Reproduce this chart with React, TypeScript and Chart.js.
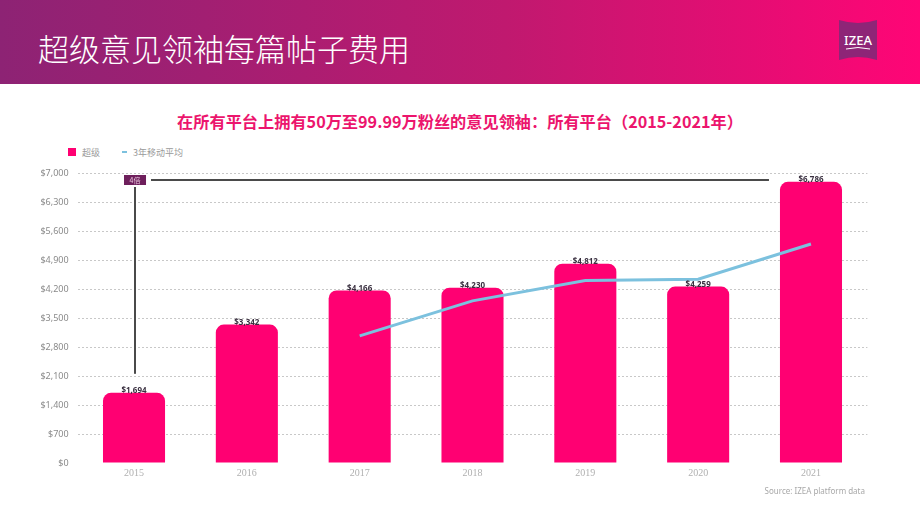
import React, { useEffect, useRef } from "react";
import { Chart, registerables } from "chart.js";

Chart.register(...registerables);

const categories = ["2015", "2016", "2017", "2018", "2019", "2020", "2021"];
const costValues = [1694, 3342, 4166, 4230, 4812, 4259, 6786];
const movingAvgValues = [null, null, 3067, 3913, 4403, 4434, 5286];
const yTickMax = 7000;
const yTickStep = 700;
const seriesNames = ["超级", "3年移动平均"];
const headerTitle = "超级意见领袖每篇帖子费用";
const chartTitle = "在所有平台上拥有50万至99.99万粉丝的意见领袖：所有平台（2015-2021年）";
const annotationLabel = "4倍";
const annotationLevel = 6830;
const sourceText = "Source: IZEA platform data";

const W = 920;
const H = 518;

const fmt = (v: number) => "$" + Number(v).toLocaleString("en-US");

const barLabelPlugin = {
  id: "barLabels",
  afterDatasetsDraw(chart: any) {
    const ctx = chart.ctx;
    const meta = chart.getDatasetMeta(0);
    ctx.save();
    ctx.font = "bold 8px 'Noto Sans', sans-serif";
    ctx.fillStyle = "#3a3040";
    ctx.textAlign = "center";
    ctx.textBaseline = "bottom";
    meta.data.forEach((bar: any, i: number) => {
      ctx.fillText(fmt(costValues[i]), bar.x, bar.y + 2);
    });
    ctx.restore();
  },
};

const annotationPlugin = {
  id: "fourX",
  afterDatasetsDraw(chart: any) {
    const ctx = chart.ctx;
    const xs = chart.scales.x;
    const ys = chart.scales.y;
    const meta = chart.getDatasetMeta(0);
    const first = meta.data[0];
    const last = meta.data[meta.data.length - 1];
    const x0 = xs.getPixelForValue(0) + 1;
    const yLine = Math.round(ys.getPixelForValue(annotationLevel));
    const xEnd = last.x - last.width / 2 - 11;
    ctx.save();
    ctx.strokeStyle = "#4a4a4a";
    ctx.lineWidth = 2;
    ctx.beginPath();
    ctx.moveTo(x0 + 16, yLine);
    ctx.lineTo(xEnd, yLine);
    ctx.stroke();
    ctx.beginPath();
    ctx.moveTo(x0, yLine + 7);
    ctx.lineTo(x0, first.y - 19);
    ctx.stroke();
    ctx.fillStyle = "#6e1f5c";
    ctx.fillRect(x0 - 11, yLine - 5, 22, 10);
    ctx.fillStyle = "#e8c6dc";
    ctx.font = "7px 'Noto Sans CJK SC', sans-serif";
    ctx.textAlign = "center";
    ctx.textBaseline = "middle";
    ctx.fillText(annotationLabel, x0, yLine);
    ctx.restore();
  },
};

export default function App() {
  const ref = useRef<HTMLCanvasElement | null>(null);

  useEffect(() => {
    document.body.style.margin = "0";
    const canvas = ref.current;
    if (!canvas) return;
    const chart = new Chart(canvas, {
      type: "bar",
      data: {
        labels: categories,
        datasets: [
          {
            type: "bar",
            label: seriesNames[0],
            data: costValues,
            backgroundColor: "#ff0072",
            borderRadius: { topLeft: 8, topRight: 8, bottomLeft: 0, bottomRight: 0 },
            borderSkipped: false,
            barPercentage: 0.55,
            categoryPercentage: 1,
            order: 1,
          } as any,
          {
            type: "line",
            label: seriesNames[1],
            data: movingAvgValues,
            borderColor: "#7cc1de",
            borderWidth: 3,
            pointRadius: 0,
            tension: 0,
            spanGaps: false,
            order: 0,
          } as any,
        ],
      },
      options: {
        responsive: false,
        animation: false,
        layout: { padding: { left: 0, right: 52.6, top: 173, bottom: 0 } },
        plugins: {
          legend: { display: false },
          title: { display: false },
          tooltip: { enabled: false },
        },
        scales: {
          x: {
            grid: { display: false, drawTicks: false },
            border: { display: false },
            ticks: {
              color: "#b0b0b0",
              font: { family: "'Liberation Serif', serif", size: 10 },
              padding: 4,
            },
            afterFit: (s: any) => {
              s.height = 55;
            },
          },
          y: {
            min: 0,
            max: yTickMax,
            grid: {
              drawTicks: false,
              color: (c: any) => (c.tick && c.tick.value === 0 ? "rgba(0,0,0,0)" : "#c8c8c8"),
              lineWidth: 1,
            },
            border: { display: false, dash: [2, 2] },
            ticks: {
              stepSize: yTickStep,
              color: "#8a8a8a",
              font: { family: "'Noto Sans', sans-serif", size: 9 },
              padding: 9,
              callback: (v: any) => fmt(v),
            },
            afterFit: (s: any) => {
              s.width = 77.6;
            },
          },
        },
      },
      plugins: [barLabelPlugin, annotationPlugin],
    } as any);
    return () => chart.destroy();
  }, []);

  return (
    <div style={{ position: "absolute", left: 0, top: 0, width: W, height: H, background: "#fff", overflow: "hidden" }}>
      <div
        style={{
          position: "absolute",
          left: 0,
          top: 0,
          width: W,
          height: 84,
          background: "linear-gradient(90deg, #8d2374 0%, #c0196f 55%, #ff0576 100%)",
        }}
      />
      <div
        style={{
          position: "absolute",
          left: 38,
          top: 26,
          color: "#fff",
          fontFamily: "'Noto Sans CJK SC', sans-serif",
          fontWeight: 200,
          fontSize: 31,
          lineHeight: "44px",
          whiteSpace: "nowrap",
        }}
      >
        {headerTitle}
      </div>
      <svg style={{ position: "absolute", left: 839, top: 20 }} width={38} height={40} viewBox="0 0 38 40">
        <path d="M0 0 Q19 6 38 0 L38 40 Q19 34 0 40 Z" fill="#8e2577" />
        <text x="19" y="25" textAnchor="middle" fill="#fff" fontFamily="'Noto Sans', sans-serif" fontSize="13" fontWeight="500">IZEA</text>
        <path d="M7 29 Q19 26 31 29" stroke="#fff" strokeWidth="1" fill="none" />
      </svg>
      <div
        style={{
          position: "absolute",
          left: 0,
          width: W,
          top: 109,
          textAlign: "center",
          color: "#ec156d",
          fontFamily: "'Noto Sans CJK SC', sans-serif",
          fontWeight: 700,
          fontSize: 16.2,
          lineHeight: "24px",
          whiteSpace: "nowrap",
        }}
      >
        {chartTitle}
      </div>
      <div
        style={{
          position: "absolute",
          left: 68,
          top: 144,
          height: 16,
          display: "flex",
          alignItems: "center",
          fontFamily: "'Noto Sans CJK SC', sans-serif",
          fontSize: 9,
          color: "#9a9a9a",
          whiteSpace: "nowrap",
        }}
      >
        <span style={{ display: "inline-block", width: 8, height: 8, background: "#ff0072", marginRight: 6 }} />
        <span>{seriesNames[0]}</span>
        <span style={{ display: "inline-block", width: 5, height: 1.5, background: "#7cc1de", marginLeft: 22, marginRight: 6 }} />
        <span>{seriesNames[1]}</span>
      </div>
      <canvas ref={ref} width={W} height={H} style={{ position: "absolute", left: 0, top: 0, width: W, height: H }} />
      <div
        style={{
          position: "absolute",
          right: 55,
          top: 485,
          fontFamily: "'Noto Sans', sans-serif",
          fontSize: 8,
          color: "#a8a8a8",
          whiteSpace: "nowrap",
        }}
      >
        {sourceText}
      </div>
    </div>
  );
}
